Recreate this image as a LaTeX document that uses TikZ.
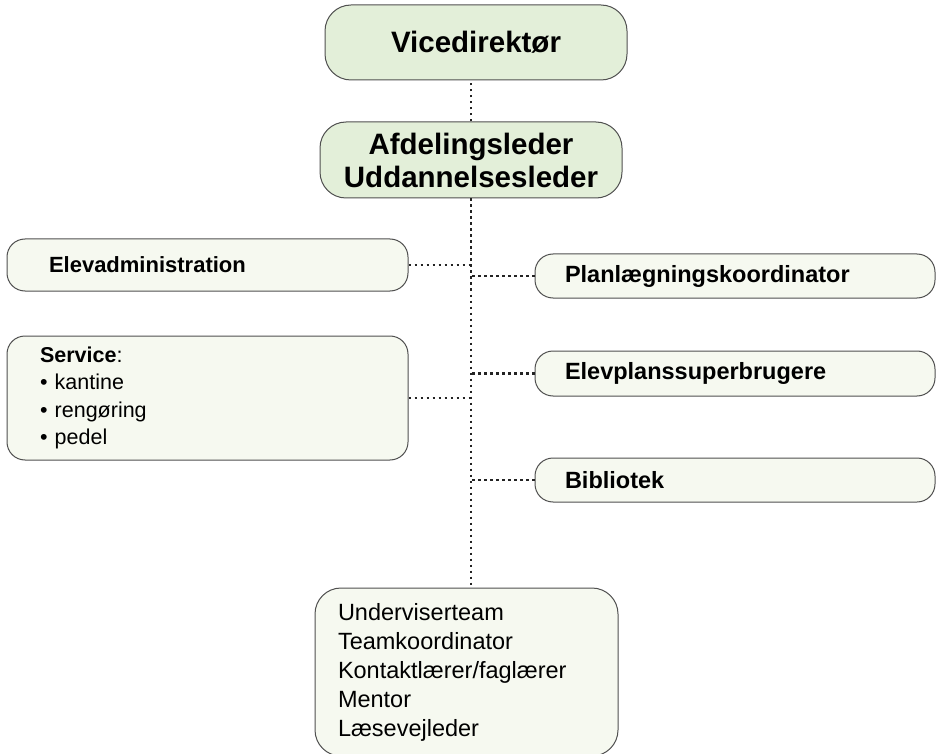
\documentclass[tikz,border=0pt]{standalone}
\usepackage{fontspec}
\setmainfont{Liberation Sans}
\usepackage{xcolor}
\usepackage{tikz}
\usetikzlibrary{positioning, calc}
\definecolor{leadgreen}{RGB}{227, 239, 217}
\definecolor{unitfill}{RGB}{246, 249, 240}
\definecolor{boxline}{RGB}{80, 80, 80}
\definecolor{dotgray}{RGB}{35, 35, 35}

\begin{document}
\begin{tikzpicture}[x=1pt, y=-1pt,
    leadbox/.style={draw=boxline, fill=leadgreen, line width=1pt, rounded corners=26pt, align=center,
        minimum width=302pt, font=\fontsize{29.5}{33}\selectfont\bfseries},
    unitbox/.style={draw=boxline, fill=unitfill, line width=1pt, rounded corners=18pt, align=left},
    link/.style={dotgray, line width=2.1pt, dash pattern=on 2.1pt off 3.9pt}]
        \useasboundingbox (0,0) rectangle (940,754);

        % Ledelse
        \node[leadbox, minimum height=75pt] (vice) at (476,42.5) {Vicedirektør};
        \node[leadbox, minimum height=76pt] (afd) at (471,160) {Afdelingsleder\\Uddannelsesleder};

        % Venstre side
        \node[unitbox, inner xsep=42pt, text width=317pt, minimum height=52pt,
            font=\fontsize{22}{26}\selectfont\bfseries] (elevadm) at (207.5,265) {Elevadministration};
        \node[unitbox, inner xsep=33pt, text width=335pt, minimum height=124pt,
            font=\fontsize{21.5}{27.5}\selectfont] (service) at (207.5,398)
            {\textbf{Service}:\\• kantine\\• rengøring\\• pedel};

        % Højre side
        \node[unitbox, inner xsep=30pt, text width=340pt, minimum height=44pt,
            font=\fontsize{23.5}{27}\selectfont\bfseries] (plan) at (735,276) {Planlægningskoordinator};
        \node[unitbox, inner xsep=30pt, text width=340pt, minimum height=45pt,
            font=\fontsize{23.5}{27}\selectfont\bfseries] (superbr) at (735,373.5) {Elevplanssuperbrugere};
        \node[unitbox, inner xsep=30pt, text width=340pt, minimum height=44pt,
            font=\fontsize{23.5}{27}\selectfont\bfseries] (bibl) at (735,480) {Bibliotek};

        % Undervisere
        \node[unitbox, rounded corners=26pt, inner xsep=23pt, text width=257pt, minimum height=168pt,
            font=\fontsize{23.5}{29}\selectfont] (team) at (466.5,672)
            {Underviserteam\\Teamkoordinator\\Kontaktlærer/faglærer\\Mentor\\Læsevejleder};

        % Forbindelser
        \draw[link] (afd.north) -- (afd.north |- vice.south);
        \draw[link] (afd.south) -- (afd.south |- team.north);
        \draw[link] (elevadm.east) -- (elevadm.east -| afd.south);
        \draw[link] (service.east) -- (service.east -| afd.south);
        \draw[link] (plan.west) -- (plan.west -| afd.south);
        \draw[link] (superbr.west) -- (superbr.west -| afd.south);
        \draw[link] (bibl.west) -- (bibl.west -| afd.south);
    \end{tikzpicture}
\end{document}
